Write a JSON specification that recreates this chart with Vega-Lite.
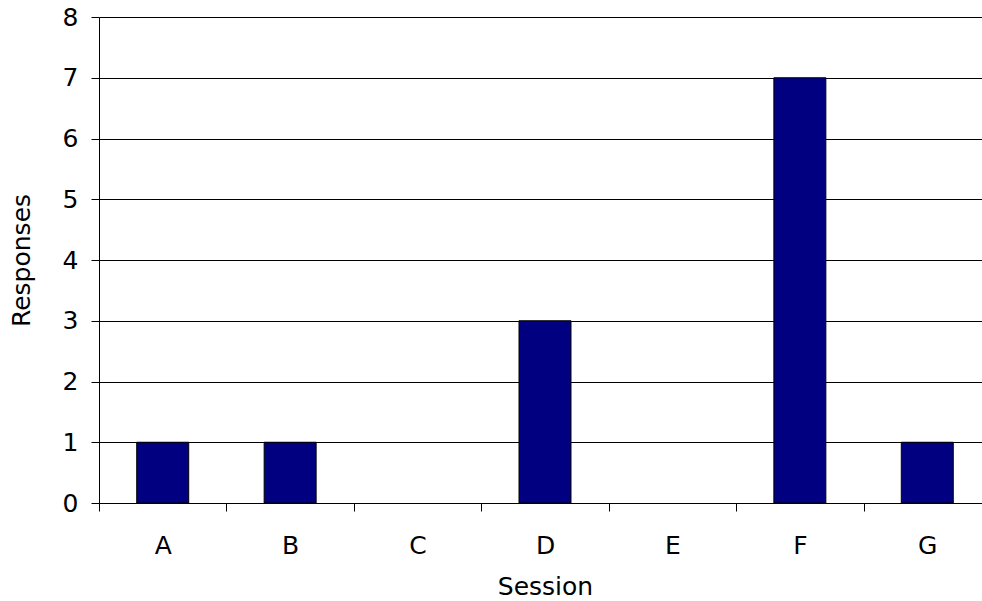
{
  "$schema": "https://vega.github.io/schema/vega-lite/v6.json",
  "autosize": "none",
  "padding": {"left": 99, "top": 17, "right": 0, "bottom": 98},
  "width": 892,
  "height": 486,
  "background": "white",
  "config": {
    "view": {"stroke": null},
    "font": "DejaVu Sans",
    "axis": {"labelFont": "DejaVu Sans", "titleFont": "DejaVu Sans", "labelColor": "#000", "titleColor": "#000", "titleFontWeight": "normal"}
  },
  "data": {
    "values": [
      {"session": "A", "responses": 1},
      {"session": "B", "responses": 1},
      {"session": "C", "responses": 0},
      {"session": "D", "responses": 3},
      {"session": "E", "responses": 0},
      {"session": "F", "responses": 7},
      {"session": "G", "responses": 1}
    ]
  },
  "transform": [{"filter": "datum.responses > 0"}],
  "mark": {"type": "bar", "color": "#000080", "stroke": "#000", "strokeWidth": 1, "width": {"band": 0.408}},
  "encoding": {
    "x": {
      "field": "session",
      "type": "nominal",
      "title": "Session",
      "scale": {"domain": ["A", "B", "C", "D", "E", "F", "G"], "paddingInner": 0, "paddingOuter": 0},
      "axis": {
        "labelAngle": 0,
        "labelFontSize": 25,
        "titleFontSize": 25,
        "labelPadding": 22,
        "titlePadding": 16,
        "tickBand": "extent",
        "tickSize": 8,
        "tickColor": "#000",
        "domainColor": "#000",
        "grid": false
      }
    },
    "y": {
      "field": "responses",
      "type": "quantitative",
      "title": "Responses",
      "scale": {"domain": [0, 8], "nice": false},
      "axis": {
        "values": [0, 1, 2, 3, 4, 5, 6, 7, 8],
        "labelFontSize": 25,
        "titleFontSize": 25,
        "labelPadding": 13,
        "titlePadding": 28,
        "tickSize": 8,
        "tickColor": "#000",
        "domainColor": "#000",
        "gridColor": "#000",
        "gridOpacity": 1
      }
    }
  }
}
